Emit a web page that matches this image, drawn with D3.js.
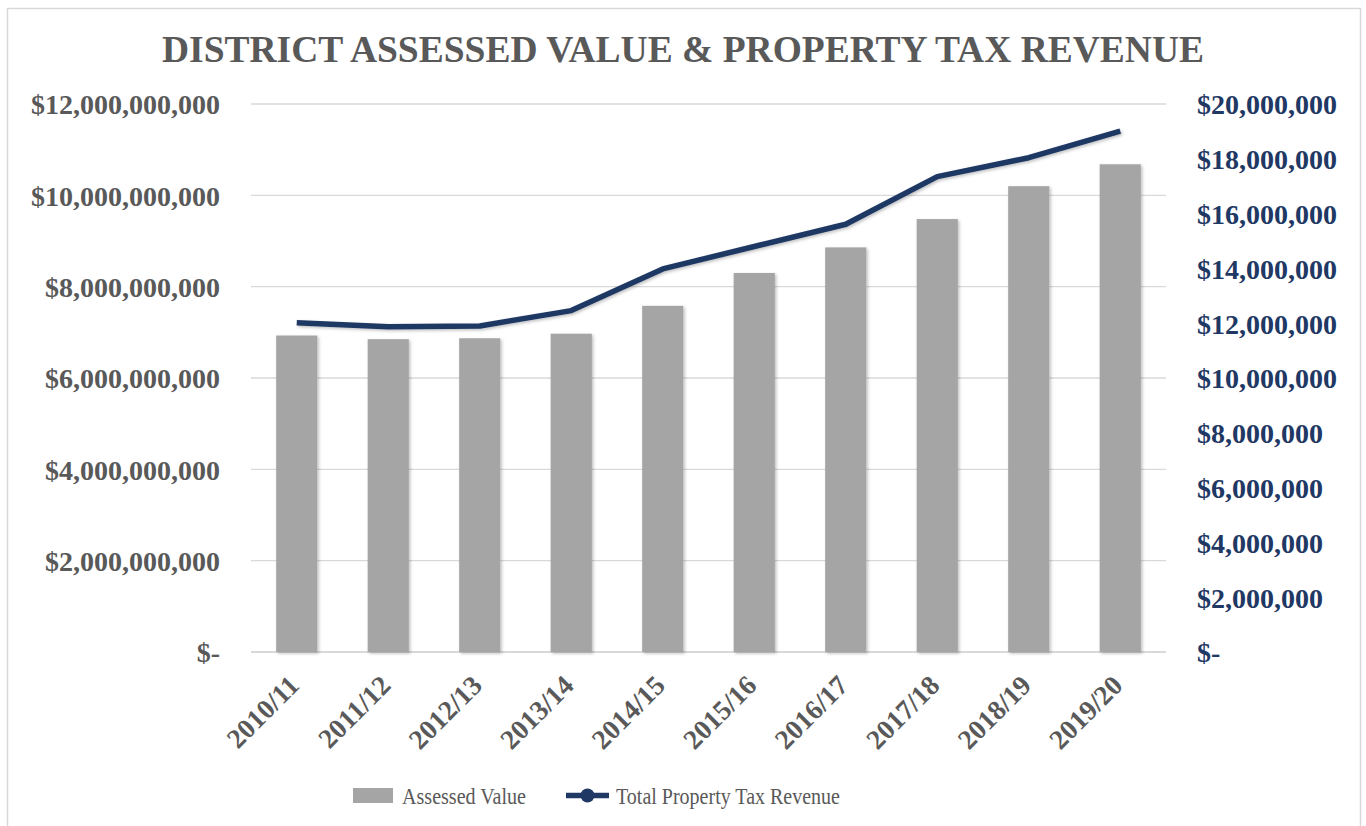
<!DOCTYPE html>
<html>
<head>
<meta charset="utf-8">
<script src="https://cdn.jsdelivr.net/npm/d3@7"></script>
<style>
  body { margin: 0; background: #fff; }
  text { font-family: "Liberation Serif", "Times New Roman", serif; }
</style>
</head>
<body>
<svg id="chart" width="1366" height="826"></svg>
<script>
// data
var years = ["2010/11", "2011/12", "2012/13", "2013/14", "2014/15",
             "2015/16", "2016/17", "2017/18", "2018/19", "2019/20"];
var assessedValue = [6.93e9, 6.85e9, 6.87e9, 6.97e9, 7.58e9,
                     8.30e9, 8.86e9, 9.48e9, 10.20e9, 10.68e9];
var taxRevenue = [12.02e6, 11.87e6, 11.90e6, 12.46e6, 13.98e6,
                  14.80e6, 15.61e6, 17.35e6, 18.04e6, 19.01e6];
var leftTicks = [0, 2e9, 4e9, 6e9, 8e9, 10e9, 12e9];
var rightTicks = [0, 2e6, 4e6, 6e6, 8e6, 10e6, 12e6, 14e6, 16e6, 18e6, 20e6];

var svg = d3.select("#chart");
var svgWidth = +svg.attr("width");
var svgHeight = +svg.attr("height");

var padding = {t: 104, r: 200, b: 174, l: 251};
var grey = "#595959";
var navy = "#1f3864";

// soft shadow like the spreadsheet chart
var defs = svg.append("defs");
defs.append("filter")
	.attr("id", "shadow")
	.attr("x", "-20%").attr("y", "-20%")
	.attr("width", "140%").attr("height", "140%")
	.append("feDropShadow")
	.attr("dx", 1.5).attr("dy", 1.5)
	.attr("stdDeviation", 1.5)
	.attr("flood-color", "#000")
	.attr("flood-opacity", 0.25);

// chart frame
svg.append("rect")
	.attr("x", 7.5).attr("y", 8.5)
	.attr("width", 1353).attr("height", 830)
	.attr("fill", "none")
	.attr("stroke", "#d9d9d9")
	.attr("stroke-width", 1.5);

var x = d3.scaleBand()
	.domain(years)
	.range([padding.l, svgWidth - padding.r])
	.paddingInner(0.55)
	.paddingOuter(0.275);

var yLeft = d3.scaleLinear()
	.domain([0, 12e9])
	.range([svgHeight - padding.b, padding.t]);

var yRight = d3.scaleLinear()
	.domain([0, 20e6])
	.range([svgHeight - padding.b, padding.t]);

var fmt = function(d) {
	return d === 0 ? "$-" : "$" + d3.format(",")(d);
};

// gridlines
svg.append("g")
	.selectAll("line")
	.data(leftTicks)
	.enter()
	.append("line")
	.attr("x1", padding.l)
	.attr("x2", svgWidth - padding.r)
	.attr("y1", function(d) { return yLeft(d); })
	.attr("y2", function(d) { return yLeft(d); })
	.attr("stroke", "#d9d9d9")
	.attr("stroke-width", function(d) { return d === 0 ? 2 : 1.3; });

// left axis
var leftAxis = svg.append("g")
	.attr("transform", "translate(" + (padding.l - 31) + ",0)")
	.call(d3.axisLeft(yLeft).tickValues(leftTicks).tickFormat(fmt).tickSize(0).tickPadding(0));
leftAxis.select(".domain").remove();
leftAxis.selectAll("text")
	.attr("fill", grey)
	.style("font-size", "28px")
	.style("font-weight", "bold")
	.attr("dy", "0.35em");

// right axis
var rightAxis = svg.append("g")
	.attr("transform", "translate(" + (svgWidth - padding.r + 31) + ",0)")
	.call(d3.axisRight(yRight).tickValues(rightTicks).tickFormat(fmt).tickSize(0).tickPadding(0));
rightAxis.select(".domain").remove();
rightAxis.selectAll("text")
	.attr("fill", navy)
	.style("font-size", "28px")
	.style("font-weight", "bold")
	.attr("dy", "0.35em");

// bars
svg.append("g")
	.selectAll("rect")
	.data(years)
	.enter()
	.append("rect")
	.attr("x", function(d) { return x(d); })
	.attr("width", x.bandwidth())
	.attr("y", function(d, i) { return yLeft(assessedValue[i]); })
	.attr("height", function(d, i) { return yLeft(0) - yLeft(assessedValue[i]); })
	.attr("fill", "#a5a5a5")
	.attr("filter", "url(#shadow)");

// x labels
svg.append("g")
	.selectAll("text")
	.data(years)
	.enter()
	.append("text")
	.attr("transform", function(d) {
		return "translate(" + (x(d) + x.bandwidth() / 2 + 4) + ",687)rotate(-45)";
	})
	.attr("text-anchor", "end")
	.attr("fill", grey)
	.style("font-size", "27.5px")
	.style("font-weight", "bold")
	.text(function(d) { return d; });

// revenue line
var line = d3.line()
	.x(function(d, i) { return x(years[i]) + x.bandwidth() / 2; })
	.y(function(d) { return yRight(d); });

svg.append("path")
	.datum(taxRevenue)
	.attr("d", line)
	.attr("fill", "none")
	.attr("stroke", navy)
	.attr("stroke-width", 5.5)
	.attr("stroke-linejoin", "round")
	.attr("filter", "url(#shadow)");

// title
svg.append("text")
	.attr("x", 683)
	.attr("y", 62)
	.attr("text-anchor", "middle")
	.attr("fill", grey)
	.style("font-size", "37.5px")
	.style("font-weight", "bold")
	.text("DISTRICT ASSESSED VALUE & PROPERTY TAX REVENUE");

// legend
var legend = svg.append("g");
legend.append("rect")
	.attr("x", 353).attr("y", 788)
	.attr("width", 40).attr("height", 15)
	.attr("fill", "#a5a5a5");
legend.append("text")
	.attr("x", 402).attr("y", 804)
	.attr("fill", grey)
	.style("font-size", "24px")
	.attr("textLength", 124)
	.attr("lengthAdjust", "spacingAndGlyphs")
	.text("Assessed Value");
legend.append("line")
	.attr("x1", 566).attr("x2", 609)
	.attr("y1", 795.5).attr("y2", 795.5)
	.attr("stroke", navy)
	.attr("stroke-width", 5.5);
legend.append("circle")
	.attr("cx", 587.5).attr("cy", 795.5)
	.attr("r", 7)
	.attr("fill", navy);
legend.append("text")
	.attr("x", 616).attr("y", 804)
	.attr("fill", grey)
	.style("font-size", "24px")
	.attr("textLength", 224)
	.attr("lengthAdjust", "spacingAndGlyphs")
	.text("Total Property Tax Revenue");
</script>
</body>
</html>
